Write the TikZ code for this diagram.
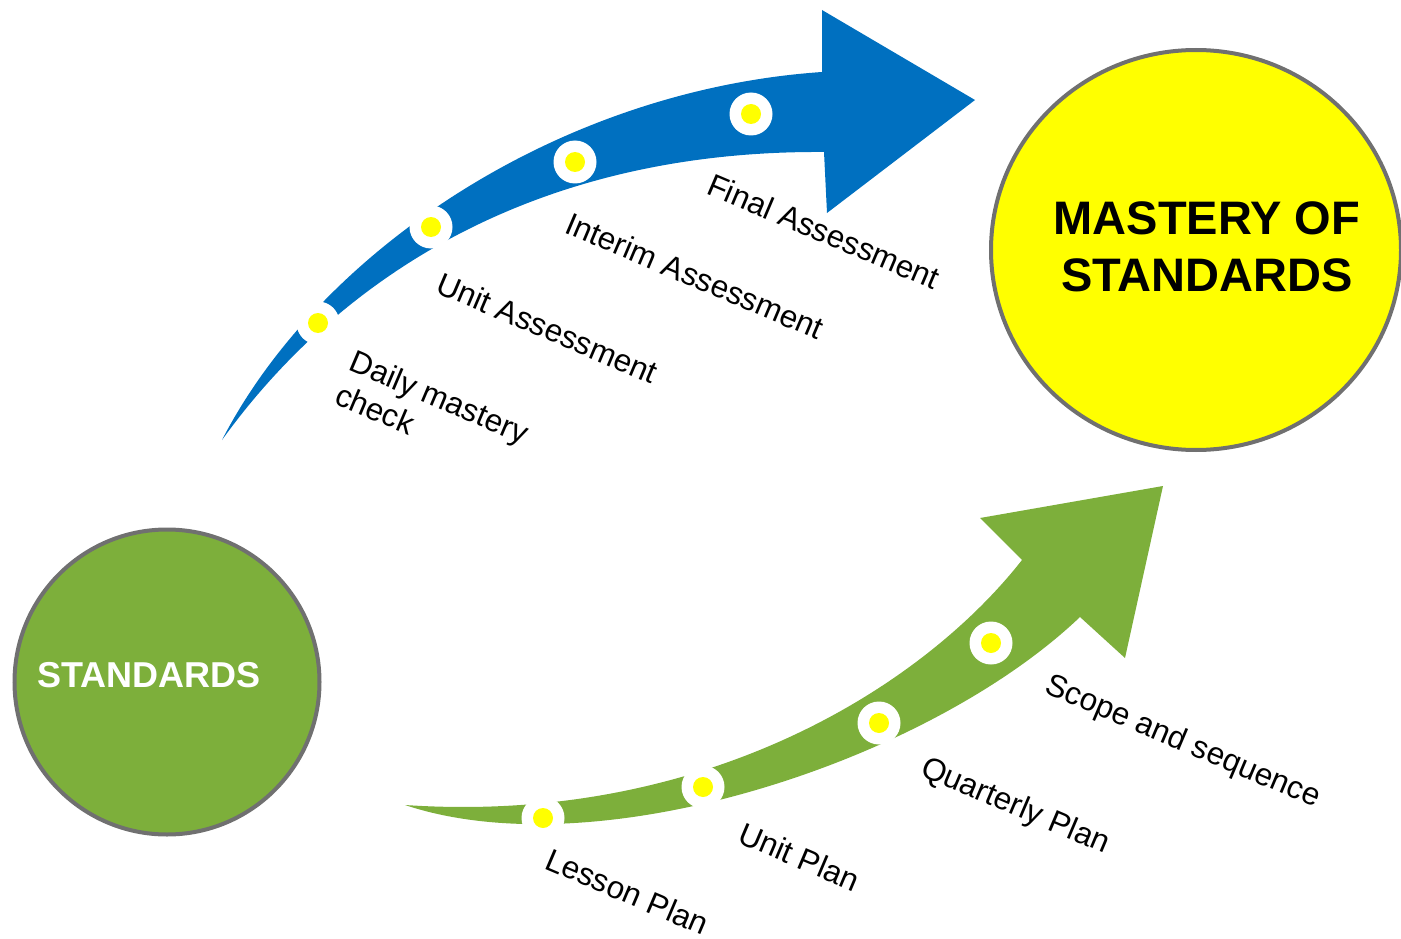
\documentclass[tikz,border=0pt]{standalone}
\usepackage{fontspec}
\setmainfont{Liberation Sans}
\usetikzlibrary{shapes.geometric}
\definecolor{arrowblue}{RGB}{0,112,192}
\definecolor{arrowgreen}{RGB}{125,175,59}
\definecolor{ringgray}{RGB}{112,112,112}
\definecolor{dotyellow}{RGB}{255,255,0}
\begin{document}
\begin{tikzpicture}[x=1pt,y=-1pt,
  lbl/.style={anchor=base west, inner sep=0pt, rotate=-23, font=\fontsize{31.5}{36}\selectfont, align=left},
  ring/.style={circle, fill=white, minimum size=43pt, inner sep=0pt},
  core/.style={circle, fill=dotyellow, minimum size=20pt, inner sep=0pt},
  bigcircle/.style={circle, draw=ringgray, line width=4pt, inner sep=0pt, minimum size=305pt},
  bigoval/.style={ellipse, draw=ringgray, line width=4pt, inner sep=0pt, minimum width=410pt, minimum height=400pt},
]
\useasboundingbox (0,0) rectangle (1401,939);
% big circles
\node[bigcircle, fill=arrowgreen] (std) at (167,682) {};
\node[bigoval, fill=dotyellow] (mastery) at (1196,250) {};
\node[inner sep=0pt, text=white, font=\fontsize{36}{42}\selectfont\bfseries] (stdtxt) at (149,675) {STANDARDS};
\node[inner sep=0pt, align=center, font=\fontsize{47}{57}\selectfont\bfseries] (mastxt) at (1207,247) {MASTERY OF\\STANDARDS};
% blue arrow
\fill[arrowblue] (222,440) .. controls (320,250) and (560,90) .. (822,72) -- (822,10) -- (975,100) -- (827,213) -- (824,152) .. controls (520,150) and (330,290) .. (222,440) -- cycle;
% green arrow
\fill[arrowgreen] (405,805) .. controls (700,825) and (920,690) .. (1022,560) -- (980,518) -- (1163,486) -- (1125,658) -- (1080,617) .. controls (930,760) and (600,870) .. (405,805) -- cycle;
% dots
\foreach \n/\p in {b1/{(318,323)}, b2/{(431,227)}, b3/{(575,162)}, b4/{(751,114)}, g1/{(543,818)}, g2/{(703,787)}, g3/{(879,723)}, g4/{(991,643)}}{
  \node[ring] (\n) at \p {};
  \node[core] (\n c) at (\n) {};
}
% labels
\node[lbl] (l1) at (333,403) {Daily mastery\\check};
\node[lbl] (l2) at (434,292) {Unit Assessment};
\node[lbl] (l3) at (563,232) {Interim Assessment};
\node[lbl] (l4) at (705,193) {Final Assessment};
\node[lbl] (l5) at (543,868) {Lesson Plan};
\node[lbl] (l6) at (736,842) {Unit Plan};
\node[lbl] (l7) at (919,775) {Quarterly Plan};
\node[lbl] (l8) at (1043,692) {Scope and sequence};
\end{tikzpicture}
\end{document}
